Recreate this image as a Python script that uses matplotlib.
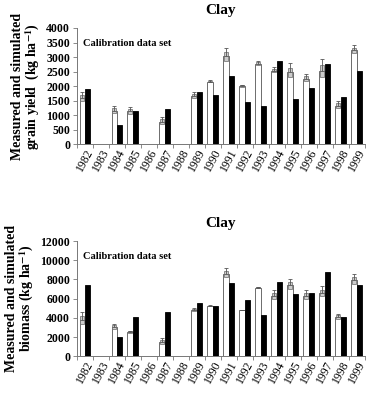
import matplotlib
matplotlib.use("Agg")
import matplotlib.pyplot as plt
import numpy as np

years = [str(y) for y in range(1982, 2000)]

# grain yield (kg/ha), None = no data
grain_meas = [1600, None, 1150, 1130, None, 780, None, 1650, 2150, 3020, 2000, 2770, 2530, 2480, 2250, 2530, 1320, 3230]
grain_err = [200, 0, 160, 150, 0, 150, 0, 150, 50, 300, 50, 100, 120, 300, 180, 400, 170, 180]
grain_sim = [1900, None, 670, 1130, None, 1220, None, 1800, 1700, 2350, 1450, 1300, 2870, 1570, 1930, 2760, 1620, 2520]

# biomass (kg/ha)
bio_meas = [3800, None, 3000, 2500, None, 1450, None, 4800, 5250, 8600, 4800, 7150, 6300, 7400, 6300, 6600, 4050, 7900]
bio_err = [800, 0, 400, 150, 0, 400, 0, 200, 50, 600, 50, 100, 600, 700, 600, 700, 400, 700]
bio_sim = [7450, None, 2000, 4050, None, 4600, None, 5550, 5250, 7600, 5850, 4250, 7750, 6500, 6550, 8800, 4050, 7400]

plt.rcParams['font.family'] = ['Liberation Serif', 'DejaVu Serif']
plt.rcParams['mathtext.fontset'] = 'stix'

fig = plt.figure(figsize=(3.70, 3.94), dpi=100)


def panel(rect, meas, err, sim, ymax, step, ylabel):
    ax = fig.add_axes(rect)
    x = np.arange(len(years))
    w = 0.34
    m = np.array([np.nan if v is None else v for v in meas], dtype=float)
    s = np.array([np.nan if v is None else v for v in sim], dtype=float)
    e = np.array(err, dtype=float)
    ax.bar(x - w / 2, m, w, color='white', edgecolor='#555555', linewidth=0.6, zorder=2)
    ax.bar(x + w / 2, s, w, color='black', edgecolor='black', linewidth=0.6, zorder=2)
    # error boxes (gray) with upper whisker
    ok = ~np.isnan(m)
    ax.bar(x[ok] - w / 2, e[ok], w * 0.7, bottom=m[ok] - e[ok] / 2, color='#cccccc',
           edgecolor='#666666', linewidth=0.5, zorder=3)
    ax.errorbar(x[ok] - w / 2, m[ok], yerr=[np.zeros(ok.sum()), e[ok]], fmt='none',
                ecolor='#555555', elinewidth=0.6, capsize=1.5, capthick=0.6, zorder=3)
    ax.set_xlim(-0.5, len(years) - 0.5)
    ax.set_ylim(0, ymax)
    ax.set_yticks(np.arange(0, ymax + 1, step))
    ax.set_xticks(x)
    ax.set_xticklabels(years, rotation=62, fontsize=8.5)
    ax.set_xticks(np.arange(-0.5, len(years), 1), minor=True)
    ax.tick_params(axis='x', which='major', length=0, pad=2)
    ax.tick_params(axis='x', which='minor', length=3, width=0.6, color='#777777')
    ax.tick_params(axis='y', labelsize=8.5, length=3, width=0.6, color='#777777', pad=2)
    for lab in ax.get_yticklabels():
        lab.set_fontweight('bold')
    for sp in ['top', 'right']:
        ax.spines[sp].set_visible(False)
    for sp in ['left', 'bottom']:
        ax.spines[sp].set_color('#777777')
        ax.spines[sp].set_linewidth(0.7)
    ax.set_title('Clay', fontsize=11, fontweight='bold', pad=10)
    ax.text(0.02, 0.87, 'Calibration data set', transform=ax.transAxes,
            fontsize=7.5, fontweight='bold', va='center')
    ax.set_ylabel(ylabel, fontsize=10, fontweight='bold', labelpad=3, linespacing=1.0)
    return ax


panel([0.208, 0.634, 0.778, 0.295], grain_meas, grain_err, grain_sim, 4000, 500,
      'Measured and simulated\ngrain yield  (kg ha$^{\\mathbf{-1}}$)')
panel([0.208, 0.096, 0.778, 0.292], bio_meas, bio_err, bio_sim, 12000, 2000,
      'Measured and simulated\nbiomass (kg ha$^{\\mathbf{-1}}$)')

fig.savefig('out.png', dpi=100)
